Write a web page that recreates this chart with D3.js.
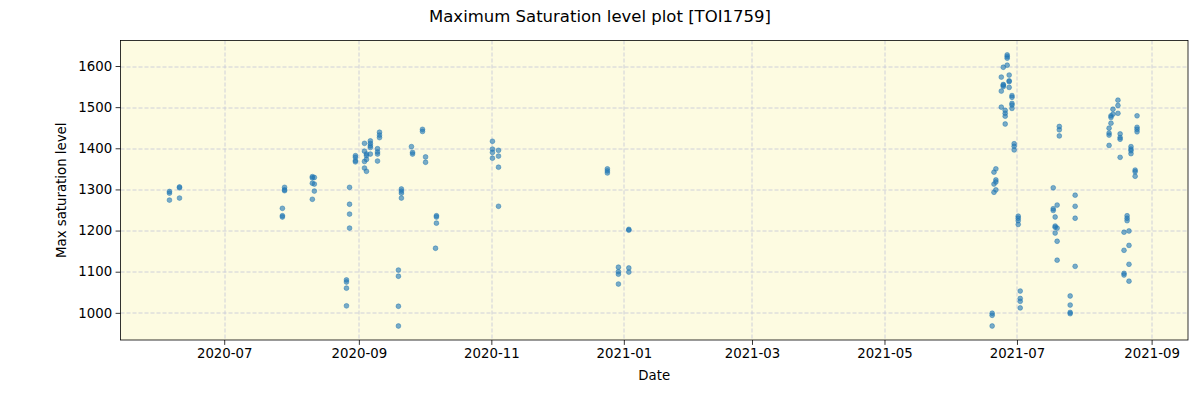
<!DOCTYPE html>
<html>
<head>
<meta charset="utf-8">
<script src="https://cdn.jsdelivr.net/npm/d3@7"></script>
<style>
  body { margin: 0; background: #fff; }
  svg text { font-family: "DejaVu Sans", sans-serif; fill: #000; }
</style>
</head>
<body>
<div id="chart"></div>
<script>
// observation times (local) and the max saturation level read at each
const obsTimes = [
  "2020-06-05T19:00", "2020-06-05T19:00", "2020-06-05T19:00",
  "2020-06-10T10:00", "2020-06-10T10:00", "2020-06-10T10:00",
  "2020-07-27T19:00", "2020-07-27T19:00", "2020-07-27T19:00",
  "2020-07-28T19:00", "2020-07-28T19:00", "2020-07-28T19:00",
  "2020-08-10T14:00", "2020-08-10T14:00", "2020-08-10T14:00", "2020-08-10T14:00",
  "2020-08-11T12:00", "2020-08-11T12:00", "2020-08-11T12:00",
  "2020-08-26T07:00", "2020-08-26T07:00", "2020-08-26T07:00", "2020-08-26T07:00",
  "2020-08-27T17:00", "2020-08-27T17:00", "2020-08-27T17:00", "2020-08-27T17:00",
  "2020-08-30T10:00", "2020-08-30T10:00", "2020-08-30T10:00", "2020-08-30T10:00",
  "2020-09-03T14:00", "2020-09-03T14:00", "2020-09-03T14:00", "2020-09-03T14:00",
  "2020-09-04T12:00", "2020-09-04T12:00", "2020-09-04T12:00", "2020-09-04T12:00",
  "2020-09-06T07:00", "2020-09-06T07:00", "2020-09-06T07:00", "2020-09-06T07:00", "2020-09-06T07:00",
  "2020-09-09T14:00", "2020-09-09T14:00", "2020-09-09T14:00", "2020-09-09T14:00",
  "2020-09-10T12:00", "2020-09-10T12:00", "2020-09-10T12:00",
  "2020-09-19T05:00", "2020-09-19T05:00", "2020-09-19T05:00", "2020-09-19T05:00",
  "2020-09-20T14:00", "2020-09-20T14:00", "2020-09-20T14:00", "2020-09-20T14:00",
  "2020-09-25T05:00", "2020-09-25T17:00", "2020-09-25T17:00",
  "2020-09-30T07:00", "2020-09-30T07:00",
  "2020-10-01T17:00", "2020-10-01T17:00",
  "2020-10-06T17:00", "2020-10-06T17:00", "2020-10-06T17:00", "2020-10-06T07:00",
  "2020-11-01T12:00", "2020-11-01T12:00", "2020-11-01T12:00", "2020-11-01T12:00",
  "2020-11-04T07:00", "2020-11-04T07:00", "2020-11-04T07:00", "2020-11-04T07:00",
  "2020-12-24T10:00", "2020-12-24T10:00", "2020-12-24T10:00",
  "2020-12-29T12:00", "2020-12-29T12:00", "2020-12-29T12:00", "2020-12-29T12:00",
  "2021-01-03T07:00", "2021-01-03T07:00", "2021-01-03T07:00", "2021-01-03T07:00",
  "2021-06-19T14:00", "2021-06-19T14:00", "2021-06-19T14:00",
  "2021-06-20T10:00", "2021-06-20T10:00", "2021-06-20T10:00",
  "2021-06-21T07:00", "2021-06-21T07:00", "2021-06-21T07:00", "2021-06-21T07:00",
  "2021-06-23T19:00", "2021-06-23T19:00", "2021-06-23T19:00",
  "2021-06-24T17:00", "2021-06-24T17:00", "2021-06-24T17:00", "2021-06-24T17:00",
  "2021-06-25T14:00", "2021-06-25T14:00", "2021-06-25T14:00", "2021-06-25T14:00",
  "2021-06-26T12:00", "2021-06-26T12:00", "2021-06-26T12:00", "2021-06-26T12:00",
  "2021-06-27T10:00", "2021-06-27T10:00", "2021-06-27T10:00", "2021-06-27T10:00",
  "2021-06-28T17:00", "2021-06-28T17:00", "2021-06-28T17:00", "2021-06-28T17:00", "2021-06-28T17:00",
  "2021-06-29T17:00", "2021-06-29T17:00", "2021-06-29T17:00",
  "2021-07-01T14:00", "2021-07-01T14:00", "2021-07-01T14:00", "2021-07-01T14:00",
  "2021-07-02T12:00", "2021-07-02T12:00", "2021-07-02T12:00", "2021-07-02T12:00",
  "2021-07-17T17:00", "2021-07-17T17:00", "2021-07-17T17:00",
  "2021-07-18T14:00", "2021-07-18T14:00", "2021-07-18T14:00", "2021-07-18T14:00",
  "2021-07-19T12:00", "2021-07-19T12:00", "2021-07-19T12:00", "2021-07-19T12:00",
  "2021-07-20T12:00", "2021-07-20T12:00", "2021-07-20T12:00",
  "2021-07-25T12:00", "2021-07-25T12:00", "2021-07-25T12:00", "2021-07-25T12:00",
  "2021-07-27T19:00", "2021-07-27T19:00", "2021-07-27T19:00", "2021-07-27T19:00",
  "2021-08-12T10:00", "2021-08-12T10:00", "2021-08-12T10:00", "2021-08-12T10:00",
  "2021-08-13T07:00", "2021-08-13T07:00", "2021-08-13T07:00",
  "2021-08-14T05:00", "2021-08-14T05:00",
  "2021-08-16T12:00", "2021-08-16T12:00", "2021-08-16T12:00",
  "2021-08-17T12:00", "2021-08-17T12:00", "2021-08-17T12:00", "2021-08-17T12:00",
  "2021-08-19T07:00", "2021-08-19T07:00", "2021-08-19T07:00", "2021-08-19T07:00",
  "2021-08-20T17:00", "2021-08-20T17:00", "2021-08-20T17:00",
  "2021-08-21T14:00", "2021-08-21T14:00", "2021-08-21T14:00", "2021-08-21T14:00",
  "2021-08-22T12:00", "2021-08-22T12:00", "2021-08-22T12:00", "2021-08-22T12:00",
  "2021-08-24T10:00", "2021-08-24T10:00", "2021-08-24T10:00",
  "2021-08-25T07:00", "2021-08-25T07:00", "2021-08-25T07:00", "2021-08-25T07:00"
];
const maxLevels = [
  1295, 1291, 1274,
  1304, 1306, 1279,
  1254, 1236, 1233,
  1305, 1299, 1297,
  1331, 1328, 1315, 1276,
  1329, 1313, 1296,
  1080, 1075, 1060, 1017,
  1305, 1264, 1240, 1206,
  1382, 1378, 1370, 1367,
  1412, 1393, 1368, 1352,
  1386, 1382, 1373, 1344,
  1418, 1412, 1406, 1402, 1386,
  1399, 1391, 1386, 1369,
  1439, 1432, 1426,
  1104, 1089, 1016, 968,
  1301, 1296, 1291, 1279,
  1404, 1390, 1386,
  1446, 1441,
  1379, 1366,
  1236, 1233, 1218, 1157,
  1417, 1398, 1390, 1376,
  1395, 1381, 1354, 1259,
  1350, 1345, 1340,
  1111, 1100, 1094, 1070,
  1203, 1201, 1109, 1099,
  999, 994, 968,
  1342, 1313, 1293,
  1350, 1323, 1318, 1299,
  1573, 1539, 1500,
  1597, 1555, 1553, 1550,
  1492, 1485, 1478, 1459,
  1627, 1623, 1619, 1602,
  1578, 1564, 1562, 1548,
  1528, 1524, 1509, 1505, 1497,
  1411, 1405, 1396,
  1235, 1230, 1224, 1215,
  1053, 1035, 1028, 1012,
  1304, 1253, 1249,
  1233, 1211, 1208, 1194,
  1262, 1206, 1174, 1128,
  1453, 1445, 1430,
  1041, 1019, 1001, 998,
  1286, 1259, 1230, 1113,
  1449, 1437, 1432, 1407,
  1479, 1475, 1461,
  1495, 1483,
  1517, 1504, 1485,
  1435, 1426, 1422, 1378,
  1196, 1152, 1096, 1092,
  1236, 1230, 1224,
  1199, 1164, 1118, 1077,
  1404, 1398, 1394, 1387,
  1347, 1343, 1332,
  1479, 1451, 1446, 1440
];
const yTicks = [1000, 1100, 1200, 1300, 1400, 1500, 1600];
const xTicks = ["2020-07-01", "2020-09-01", "2020-11-01", "2021-01-01",
                "2021-03-01", "2021-05-01", "2021-07-01", "2021-09-01"];

const width = 1200, height = 400;
const margin = { top: 40.5, right: 12, bottom: 60, left: 120.5 };
const plotW = width - margin.left - margin.right;
const plotH = height - margin.top - margin.bottom;

const parseTime = d3.timeParse("%Y-%m-%dT%H:%M");
const parseDay = d3.timeParse("%Y-%m-%d");
const points = obsTimes.map((t, i) => ({ t: parseTime(t), v: maxLevels[i] }));

const x = d3.scaleTime()
  .domain([parseTime("2020-05-14T06:00"), parseTime("2021-09-17T18:00")])
  .range([0, plotW]);
const y = d3.scaleLinear()
  .domain([934, 1662])
  .range([plotH, 0]);

const svg = d3.select("#chart").append("svg")
  .attr("width", width)
  .attr("height", height);

svg.append("text")
  .attr("x", width / 2)
  .attr("y", 22)
  .attr("text-anchor", "middle")
  .style("font-size", "16.5px")
  .text("Maximum Saturation level plot [TOI1759]");

const g = svg.append("g")
  .attr("transform", `translate(${margin.left},${margin.top})`);

g.append("rect")
  .attr("width", plotW)
  .attr("height", plotH)
  .attr("fill", "#fdfbe1");

// grid
g.append("g").selectAll("line")
  .data(xTicks.map(parseDay))
  .join("line")
  .attr("x1", d => Math.round(x(d)) + 0.5).attr("x2", d => Math.round(x(d)) + 0.5)
  .attr("y1", 0).attr("y2", plotH)
  .attr("stroke", "#c9cbd9").attr("stroke-width", 0.9)
  .attr("stroke-dasharray", "4,2");
g.append("g").selectAll("line")
  .data(yTicks)
  .join("line")
  .attr("y1", d => Math.round(y(d)) + 0.5).attr("y2", d => Math.round(y(d)) + 0.5)
  .attr("x1", 0).attr("x2", plotW)
  .attr("stroke", "#c9cbd9").attr("stroke-width", 0.9)
  .attr("stroke-dasharray", "4,2");

// points
g.append("g").selectAll("circle")
  .data(points)
  .join("circle")
  .attr("cx", d => x(d.t))
  .attr("cy", d => y(d.v))
  .attr("r", 2.4)
  .attr("fill", "#1f77b4")
  .attr("fill-opacity", 0.6)
  .attr("stroke", "#1f77b4")
  .attr("stroke-opacity", 0.6)
  .attr("stroke-width", 0.8);

// axes
const xAxis = g.append("g")
  .attr("transform", `translate(0,${plotH})`)
  .call(d3.axisBottom(x)
    .tickValues(xTicks.map(parseDay))
    .tickFormat(d3.timeFormat("%Y-%m"))
    .tickSize(4.9).tickPadding(3.5));
const yAxis = g.append("g")
  .call(d3.axisLeft(y)
    .tickValues(yTicks)
    .tickFormat(d3.format("d"))
    .tickSize(4.9).tickPadding(3.5));

[xAxis, yAxis].forEach(a => {
  a.select(".domain").remove();
  a.selectAll("line").attr("stroke", "#000").attr("stroke-width", 0.8);
  a.selectAll("text").style("font-size", "13.3px")
    .style("font-family", "DejaVu Sans, sans-serif").attr("fill", "#000");
});

g.append("rect")
  .attr("width", plotW)
  .attr("height", plotH)
  .attr("fill", "none")
  .attr("stroke", "#000")
  .attr("stroke-width", 0.8);

svg.append("text")
  .attr("x", margin.left + plotW / 2)
  .attr("y", 380)
  .attr("text-anchor", "middle")
  .style("font-size", "13.3px")
  .text("Date");

svg.append("text")
  .attr("transform", `translate(66,${margin.top + plotH / 2}) rotate(-90)`)
  .attr("text-anchor", "middle")
  .style("font-size", "13.3px")
  .text("Max saturation level");
</script>
</body>
</html>
